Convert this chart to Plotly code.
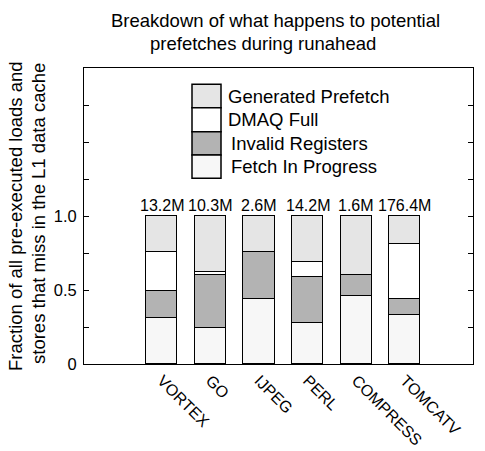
import plotly.graph_objects as go

categories = ["VORTEX", "GO", "IJPEG", "PERL", "COMPRESS", "TOMCATV"]
totals = ["13.2M", "10.3M", "2.6M", "14.2M", "1.6M", "176.4M"]
fetch_in_progress = [0.31, 0.24, 0.44, 0.28, 0.46, 0.33]
invalid_registers = [0.18, 0.36, 0.32, 0.31, 0.14, 0.11]
dmaq_full = [0.27, 0.02, 0.0, 0.10, 0.0, 0.37]
generated_prefetch = [0.24, 0.38, 0.24, 0.31, 0.40, 0.19]

series_names = ["Fetch In Progress", "Invalid Registers", "DMAQ Full", "Generated Prefetch"]
series_values = [fetch_in_progress, invalid_registers, dmaq_full, generated_prefetch]
series_colors = ["#f7f7f7", "#b3b3b3", "#ffffff", "#e5e5e5"]

FONT = "Liberation Sans, Arial, sans-serif"
xpos = list(range(1, len(categories) + 1))

fig = go.Figure()
for name, vals, col in zip(series_names, series_values, series_colors):
    fig.add_trace(go.Bar(
        x=xpos, y=vals, name=name, width=0.64,
        marker=dict(color=col, line=dict(color="black", width=1)),
        showlegend=False,
    ))

# value labels above bars
for x, t, a, b, c, d in zip(xpos, totals, fetch_in_progress, invalid_registers, dmaq_full, generated_prefetch):
    fig.add_annotation(x=x, y=a + b + c + d, text=t, showarrow=False,
                       yanchor="bottom", yshift=0,
                       font=dict(family=FONT, size=16, color="black"))

# target plot area in window pixels
W, H = 485, 451
L, R, T, B = 84, 473, 68, 364

def px(xp):
    return (xp - L) / (R - L)
def py(yp):
    return (B - yp) / (B - T)

# manual legend
legend_rows = [("Generated Prefetch", "#e5e5e5", 226),
               ("DMAQ Full", "#ffffff", 226),
               ("Invalid Registers", "#b3b3b3", 229),
               ("Fetch In Progress", "#f7f7f7", 229)]
row_edges = [84.3, 107.7, 131.7, 155.0, 178.3]
for i, (lab, col, tx) in enumerate(legend_rows):
    y0, y1 = row_edges[i], row_edges[i + 1]
    fig.add_shape(type="rect", xref="paper", yref="paper",
                  x0=px(192), x1=px(221), y0=py(y1), y1=py(y0),
                  fillcolor=col, line=dict(color="black", width=1.5))
    fig.add_annotation(xref="paper", yref="paper", x=px(tx), y=py((y0 + y1) / 2),
                       text=lab, showarrow=False, xanchor="left", yanchor="middle",
                       font=dict(family=FONT, size=18.5, color="black"))

# title (two lines)
fig.add_annotation(xref="paper", yref="paper", x=px(275.5), y=py(20), text="Breakdown of what happens to potential",
                   showarrow=False, xanchor="center", yanchor="middle",
                   font=dict(family=FONT, size=18.5, color="black"))
fig.add_annotation(xref="paper", yref="paper", x=px(263), y=py(44), text="prefetches during runahead",
                   showarrow=False, xanchor="center", yanchor="middle",
                   font=dict(family=FONT, size=18.5, color="black"))
# y-axis title (two lines)
fig.add_annotation(xref="paper", yref="paper", x=px(15), y=py(216), text="Fraction of all pre-executed loads and",
                   showarrow=False, xanchor="center", yanchor="middle", textangle=-90,
                   font=dict(family=FONT, size=18.5, color="black"))
fig.add_annotation(xref="paper", yref="paper", x=px(38), y=py(214), text="stores that miss in the L1 data cache",
                   showarrow=False, xanchor="center", yanchor="middle", textangle=-90,
                   font=dict(family=FONT, size=18.5, color="black"))

fig.update_layout(
    barmode="stack",
    width=W, height=H,
    margin=dict(l=L, r=W - R, t=T, b=H - B, pad=0, autoexpand=False),
    plot_bgcolor="white", paper_bgcolor="white",
    font=dict(family=FONT, size=16, color="black"),
    bargap=0,
)
fig.update_xaxes(range=[-0.6, 7.4], tickvals=xpos, ticktext=categories, tickangle=45,
                 showline=True, linecolor="black", linewidth=1, mirror=True,
                 ticks="", showgrid=False, zeroline=False, automargin=False,
                 tickfont=dict(family=FONT, size=16, color="black"))
fig.update_yaxes(range=[0, 2], tickvals=[0, 0.25, 0.5, 0.75, 1.0, 1.25, 1.5, 1.75, 2.0],
                 ticktext=["0", "", "0.5", "", "1.0", "", "", "", ""],
                 ticks="inside", ticklen=5, tickcolor="black",
                 showline=True, linecolor="black", linewidth=1, mirror="ticks",
                 showgrid=False, zeroline=False, ticklabelstandoff=3, automargin=False,
                 tickfont=dict(family=FONT, size=16.5, color="black"))

fig.write_html("out.html", config={"displayModeBar": False},
               post_script="document.body.style.margin='0';")
